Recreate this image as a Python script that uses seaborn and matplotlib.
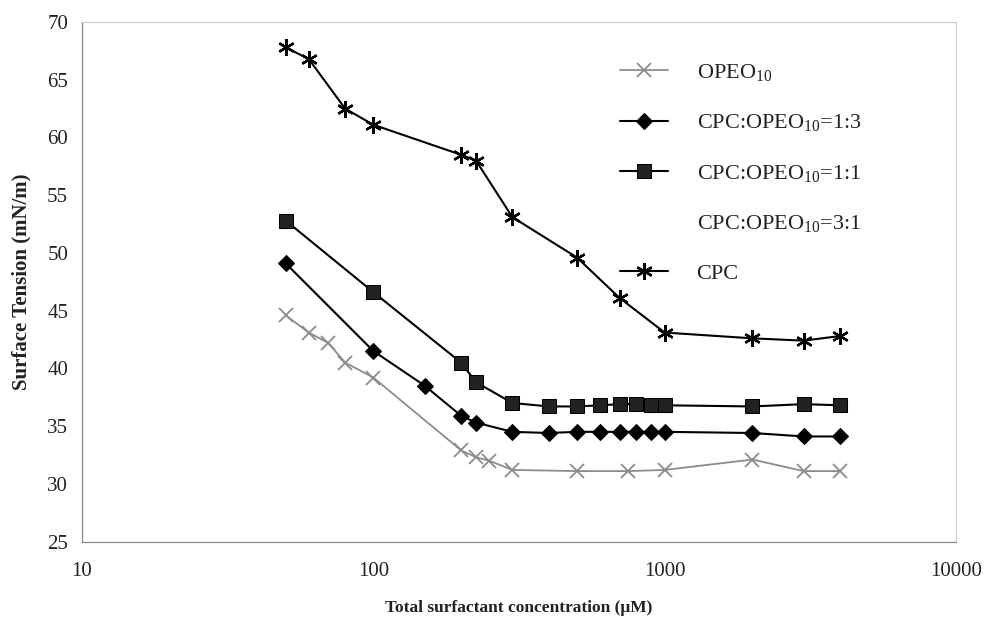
import numpy as np
import pandas as pd
import seaborn as sns
import matplotlib
matplotlib.use("Agg")
import matplotlib.pyplot as plt
from matplotlib.ticker import FixedLocator, FixedFormatter

# ---------------- data ----------------
opeo_x = [50, 60, 70, 80, 100, 200, 225, 250, 300, 500, 750, 1000, 2000, 3000, 4000]
opeo_y = [44.6, 43.1, 42.2, 40.5, 39.2, 32.9, 32.3, 32.0, 31.2, 31.1, 31.1, 31.2, 32.1, 31.1, 31.1]

r13_x = [50, 100, 150, 200, 225, 300, 400, 500, 600, 700, 800, 900, 1000, 2000, 3000, 4000]
r13_y = [49.1, 41.5, 38.5, 35.9, 35.3, 34.5, 34.4, 34.5, 34.5, 34.5, 34.5, 34.5, 34.5, 34.4, 34.1, 34.1]

r11_x = [50, 100, 200, 225, 300, 400, 500, 600, 700, 800, 900, 1000, 2000, 3000, 4000]
r11_y = [52.8, 46.6, 40.5, 38.8, 37.0, 36.7, 36.7, 36.8, 36.9, 36.9, 36.8, 36.8, 36.7, 36.9, 36.8]

r31_x = []
r31_y = []

cpc_x = [50, 60, 80, 100, 200, 225, 300, 500, 700, 1000, 2000, 3000, 4000]
cpc_y = [67.8, 66.8, 62.5, 61.1, 58.5, 58.0, 53.1, 49.6, 46.1, 43.1, 42.6, 42.4, 42.8]

labels = ["OPEO$_{10}$", "CPC:OPEO$_{10}$=1:3", "CPC:OPEO$_{10}$=1:1",
          "CPC:OPEO$_{10}$=3:1", "CPC"]
x_ticks = [10, 100, 1000, 10000]
x_ticklabels = ["10", "100", "1000", "10000"]
y_ticks = [25, 30, 35, 40, 45, 50, 55, 60, 65, 70]

# ---------------- style ----------------
sns.set_theme(style="white")
plt.rcParams["font.family"] = ["Liberation Serif", "DejaVu Serif"]
plt.rcParams["mathtext.default"] = "regular"

fig = plt.figure(figsize=(9.87, 6.22), dpi=100)
ax = fig.add_axes([0.0831, 0.1294, 0.8855, 0.8352])

star = (6, 2, 0)

sns.lineplot(x=opeo_x, y=opeo_y, ax=ax, color="#8c8c8c", linewidth=1.3,
             marker="x", markersize=10, markeredgewidth=1.3, markeredgecolor="#8c8c8c",
             label=labels[0], errorbar=None)
sns.lineplot(x=r13_x, y=r13_y, ax=ax, color="black", linewidth=1.5,
             marker="D", markersize=8.5, markeredgecolor="black",
             label=labels[1], errorbar=None)
sns.lineplot(x=r11_x, y=r11_y, ax=ax, color="black", linewidth=1.5,
             marker="s", markersize=9.5, markerfacecolor="#222222", markeredgecolor="black",
             label=labels[2], errorbar=None)
ax.plot(r31_x, r31_y, linestyle="none", label=labels[3])
sns.lineplot(x=cpc_x, y=cpc_y, ax=ax, color="black", linewidth=1.5,
             marker=star, markersize=12, markeredgewidth=1.7, markeredgecolor="black",
             label=labels[4], errorbar=None)

ax.set_xscale("log")
ax.set_xlim(10, 10000)
ax.set_ylim(25, 70)
ax.xaxis.set_major_locator(FixedLocator(x_ticks))
ax.xaxis.set_major_formatter(FixedFormatter(x_ticklabels))
ax.xaxis.set_minor_locator(FixedLocator([]))
ax.set_yticks(y_ticks)
ax.set_yticklabels([str(v) for v in y_ticks])

ax.tick_params(axis="both", labelsize=15, colors="#999999", labelcolor="#222222",
               length=4, width=0.8, direction="out")
ax.tick_params(axis="x", pad=11)
ax.tick_params(axis="y", pad=6)

for side in ["left", "bottom"]:
    ax.spines[side].set_color("#888888")
    ax.spines[side].set_linewidth(0.9)
for side in ["top", "right"]:
    ax.spines[side].set_color("#cccccc")
    ax.spines[side].set_linewidth(0.8)

ax.set_xlabel("Total surfactant concentration (μM)", fontsize=12.5, fontweight="bold",
              color="#222222")
ax.set_ylabel("Surface Tension (mN/m)", fontsize=15, fontweight="bold",
              color="#222222")
ax.xaxis.set_label_coords(0.5, -0.112)
ax.yaxis.set_label_coords(-0.058, 0.5)

handles, labs = ax.get_legend_handles_labels()
leg = ax.legend(handles, labs, loc="upper left", bbox_to_anchor=(0.605, 0.94),
                frameon=False, fontsize=16, handlelength=2.16, handletextpad=1.3,
                labelspacing=1.32, borderaxespad=0)
for t in leg.get_texts():
    t.set_color("#222222")

fig.savefig("out.png", dpi=100)
